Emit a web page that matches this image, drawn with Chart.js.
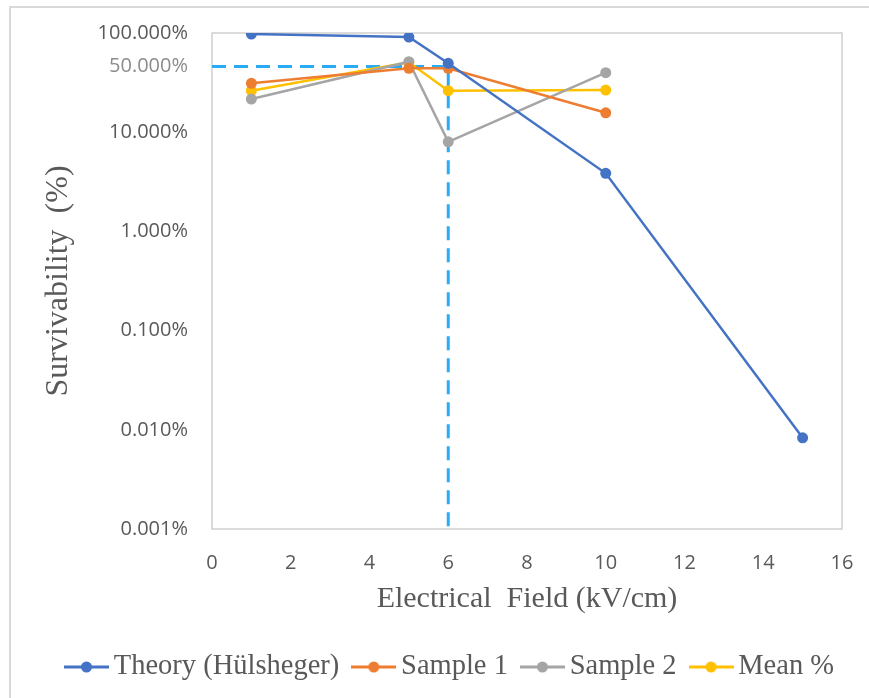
<!DOCTYPE html>
<html>
<head>
<meta charset="utf-8">
<script src="https://cdn.jsdelivr.net/npm/chart.js@4.4.1/dist/chart.umd.min.js"></script>
<style>
    html, body { margin: 0; padding: 0; background: #fff; overflow: hidden; }
    canvas { display: block; }
</style>
</head>
<body>
<canvas id="survChart" width="869" height="698"></canvas>
<script>
// Data (survivability in %)
const fieldValues = [1, 5, 6, 10, 15];
const theoryValues = [97.7, 91, 49.5, 3.85, 0.0083];
const sample1Values = [31.1, 44, 44, 15.7];
const sample2Values = [21.6, 51.4, 8.0, 39.8];
const meanValues = [26.2, 50.7, 26.2, 26.6];

// Dashed guide at 6 kV/cm
const guideX = [0, 6, 6];
const guideY = [46, 46, 0.001];

const yTickValues = [0.001, 0.01, 0.1, 1, 10, 46, 100];
const yTickLabels = ['0.001%', '0.010%', '0.100%', '1.000%', '10.000%', '50.000%', '100.000%'];

const colors = {
    theory: '#4472C4',
    sample1: '#ED7D31',
    sample2: '#A5A5A5',
    mean: '#FFC000',
    guide: '#2AACF4'
};

function toPoints(xs, ys) {
    return ys.map((y, i) => ({ x: xs[i], y: y }));
}

// Legend symbol: short line with a dot
function legendSymbol(color) {
    const c = document.createElement('canvas');
    c.width = 45;
    c.height = 14;
    const g = c.getContext('2d');
    g.strokeStyle = color;
    g.lineWidth = 3;
    g.beginPath();
    g.moveTo(0, 7);
    g.lineTo(45, 7);
    g.stroke();
    g.fillStyle = color;
    g.beginPath();
    g.arc(22.5, 7, 5.5, 0, Math.PI * 2);
    g.fill();
    return c;
}

function series(label, xs, ys, color) {
    return {
        label: label,
        data: toPoints(xs, ys),
        borderColor: color,
        backgroundColor: color,
        borderWidth: 2.5,
        pointRadius: 5.5,
        pointHoverRadius: 5.5,
        pointBorderWidth: 0,
        pointStyle: 'circle',
        tension: 0
    };
}

// Borders round plot area and outer frame
const framePlugin = {
    id: 'frame',
    beforeDraw(chart) {
        const ctx = chart.ctx;
        ctx.save();
        ctx.strokeStyle = '#D9D9D9';
        ctx.lineWidth = 2;
        ctx.beginPath();
        ctx.moveTo(10, 698);
        ctx.lineTo(10, 7);
        ctx.lineTo(869, 7);
        ctx.stroke();
        const a = chart.chartArea;
        ctx.strokeStyle = '#D0D0D0';
        ctx.lineWidth = 1.5;
        ctx.strokeRect(a.left, a.top, a.right - a.left, a.bottom - a.top);
        ctx.restore();
    }
};

const tickFont = { family: '"Open Sans", sans-serif', size: 20 };
const serifFont = '"Liberation Serif", "Times New Roman", serif';

const datasets = [
    series('Theory (Hülsheger)', fieldValues, theoryValues, colors.theory),
    series('Sample 1', fieldValues, sample1Values, colors.sample1),
    series('Sample 2', fieldValues, sample2Values, colors.sample2),
    series('Mean %', fieldValues, meanValues, colors.mean),
    {
        label: 'guide',
        data: toPoints(guideX, guideY),
        borderColor: colors.guide,
        borderWidth: 3,
        borderDash: [14, 8],
        pointRadius: 0,
        tension: 0
    }
];

new Chart(document.getElementById('survChart'), {
    type: 'line',
    data: { datasets: datasets },
    plugins: [framePlugin],
    options: {
        responsive: false,
        animation: false,
        layout: { padding: { left: 38.5, top: 33, right: 0, bottom: 6.75 } },
        plugins: {
            tooltip: { enabled: false },
            legend: {
                position: 'bottom',
                labels: {
                    usePointStyle: true,
                    pointStyleWidth: 26,
                    padding: 21.5,
                    color: '#595959',
                    font: { family: serifFont, size: 28.5 },
                    filter: item => item.text !== 'guide',
                    generateLabels(chart) {
                        return chart.data.datasets.map((ds, i) => ({
                            text: ds.label,
                            fillStyle: ds.borderColor,
                            strokeStyle: ds.borderColor,
                            fontColor: '#595959',
                            lineWidth: 0,
                            pointStyle: legendSymbol(ds.borderColor),
                            datasetIndex: i
                        }));
                    }
                }
            }
        },
        scales: {
            x: {
                type: 'linear',
                min: 0,
                max: 16,
                grid: { display: false, drawTicks: false },
                border: { display: false },
                ticks: { stepSize: 2, padding: 22, color: '#595959', font: tickFont },
                title: {
                    display: true,
                    text: 'Electrical  Field (kV/cm)',
                    color: '#595959',
                    font: { family: serifFont, size: 30 },
                    padding: { top: 0, bottom: 14 }
                },
                afterFit(scale) {
                    scale.height = 102.25;
                    scale.paddingLeft = 0;
                    scale.paddingRight = 27;
                }
            },
            y: {
                type: 'logarithmic',
                min: 0.001,
                max: 100,
                grid: { display: false, drawTicks: false },
                border: { display: false },
                afterBuildTicks(scale) {
                    scale.ticks = yTickValues.map(v => ({ value: v }));
                },
                ticks: {
                    padding: 24,
                    font: tickFont,
                    color: ctx => (ctx.tick && ctx.tick.value === 46 ? '#8C8C8C' : '#595959'),
                    callback: value => yTickLabels[yTickValues.indexOf(value)]
                },
                title: {
                    display: true,
                    text: 'Survivability  (%)',
                    color: '#595959',
                    font: { family: serifFont, size: 32 },
                    padding: { top: 1.3, bottom: 0 }
                },
                afterFit(scale) {
                    scale.width = 173.5;
                    scale.paddingTop = 0;
                    scale.paddingBottom = 0;
                }
            }
        }
    }
});
</script>
</body>
</html>
